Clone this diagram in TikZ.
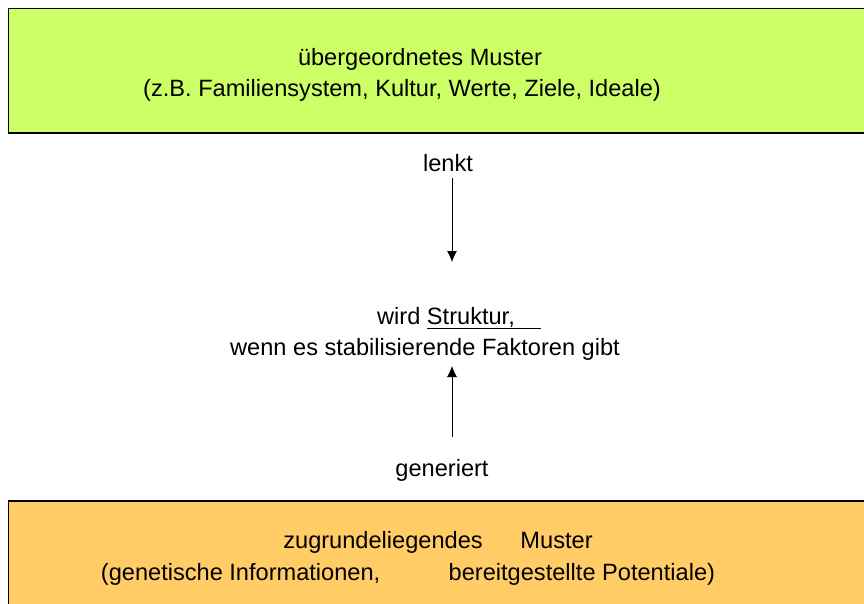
\documentclass[tikz,border=0pt]{standalone}
\usepackage{fontspec}
\setmainfont{Liberation Sans}
\usepackage{xcolor}
\usetikzlibrary{arrows.meta}
\definecolor{mustergruen}{HTML}{CCFF66}
\definecolor{musterorange}{HTML}{FFCC66}
\tikzset{
    musterbox/.style={draw=black, line width=1.3pt},
    txt/.style={anchor=base, inner sep=0pt, font=\fontsize{23.6}{28}\selectfont},
    pfeil/.style={-{Latex[length=11pt,width=10pt]}, line width=0.8pt}
}

\begin{document}
\begin{tikzpicture}[x=1pt, y=-1pt]
                \useasboundingbox (0,0) rectangle (864,603);
                \clip (0,0) rectangle (864,603);
                \draw[musterbox, fill=mustergruen] (8.5,8.5) rectangle (880,133);
                \draw[musterbox, fill=musterorange] (8.5,501) rectangle (880,620);
                \node[txt] (oben1) at (420,65) {übergeordnetes Muster};
                \node[txt] (oben2) at (402,96) {(z.B. Familiensystem, Kultur, Werte, Ziele, Ideale)};
                \node[txt] (lenkt) at (448,171) {lenkt};
                \node[txt] (mitte1) at (459,324) {wird \underline{Struktur,\hspace{1.1em}}};
                \node[txt] (mitte2) at (425,355) {wenn es stabilisierende Faktoren gibt};
                \node[txt] (gen) at (442,476) {generiert};
                \node[txt] (unten1) at (438,548) {zugrundeliegendes\hspace{1.6em}Muster};
                \node[txt] (unten2) at (408,580) {(genetische Informationen,\hspace{2.9em}bereitgestellte Potentiale)};
                \coordinate (lenktziel) at (452,262);
                \coordinate (genziel) at (452,366);
                \draw[pfeil] (lenkt.south -| lenktziel) ++(0,7) -- (lenktziel);
                \draw[pfeil] (gen.north -| genziel) ++(0,-22) -- (genziel);
            \end{tikzpicture}
\end{document}
